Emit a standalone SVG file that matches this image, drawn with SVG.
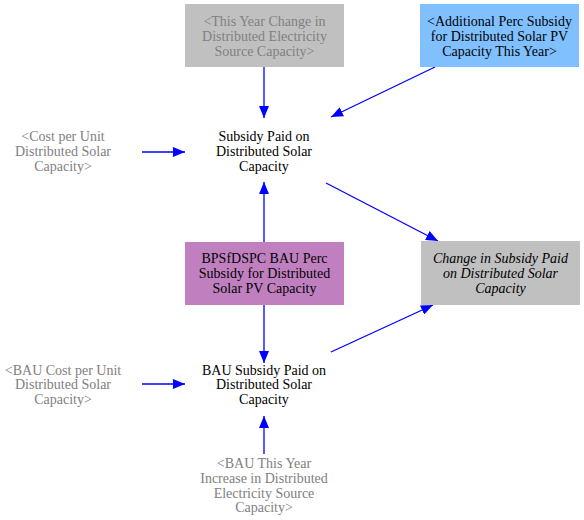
<svg xmlns="http://www.w3.org/2000/svg" width="584" height="520" viewBox="0 0 584 520">
<defs>
<marker id="ah" markerWidth="12" markerHeight="10" refX="12" refY="5" orient="auto" markerUnits="userSpaceOnUse">
<path d="M0,0 L12,5 L0,10 Z" fill="#0000ff"/>
</marker>
</defs>
<rect width="584" height="520" fill="#ffffff"/>
<g id="connectors" stroke="#0000ff" stroke-width="1.3" fill="none" marker-end="url(#ah)">
<line x1="264" y1="67" x2="264" y2="118"/>
<line x1="435" y1="67" x2="331" y2="117"/>
<line x1="142" y1="152" x2="185" y2="152"/>
<line x1="264" y1="242" x2="264" y2="182"/>
<line x1="264" y1="305" x2="264" y2="363"/>
<line x1="326" y1="183" x2="438" y2="241"/>
<line x1="331" y1="352" x2="433" y2="305"/>
<line x1="142" y1="384" x2="185" y2="384"/>
<line x1="264" y1="454" x2="264" y2="416"/>
</g>
<g font-family="Liberation Serif" font-size="14" text-anchor="middle">
<g id="this-year-change" fill="#808080">
<rect x="185" y="4" width="159" height="63" fill="#c0c0c0"/>
<text x="264.5" y="26">&lt;This Year Change in</text>
<text x="264.5" y="41">Distributed Electricity</text>
<text x="264.5" y="56">Source Capacity&gt;</text>
</g>
<g id="additional-perc" fill="#000000">
<rect x="420" y="4" width="159" height="63" fill="#80c0ff"/>
<text x="499.5" y="26">&lt;Additional Perc Subsidy</text>
<text x="499.5" y="41">for Distributed Solar PV</text>
<text x="499.5" y="56">Capacity This Year&gt;</text>
</g>
<g id="cost-per-unit" fill="#808080">
<text x="63" y="141">&lt;Cost per Unit</text>
<text x="63" y="156">Distributed Solar</text>
<text x="63" y="171">Capacity&gt;</text>
</g>
<g id="subsidy-paid" fill="#000000">
<text x="264" y="141">Subsidy Paid on</text>
<text x="264" y="156">Distributed Solar</text>
<text x="264" y="171">Capacity</text>
</g>
<g id="bau-perc" fill="#000000">
<rect x="185" y="242" width="159" height="63" fill="#c080c0"/>
<text x="264.5" y="263">BPSfDSPC BAU Perc</text>
<text x="264.5" y="278">Subsidy for Distributed</text>
<text x="264.5" y="293">Solar PV Capacity</text>
</g>
<g id="change-in-subsidy" fill="#000000" font-style="italic">
<rect x="421" y="241" width="159" height="64" fill="#c0c0c0"/>
<text x="500.5" y="263">Change in Subsidy Paid</text>
<text x="500.5" y="278">on Distributed Solar</text>
<text x="500.5" y="293">Capacity</text>
</g>
<g id="bau-cost" fill="#808080">
<text x="63" y="375">&lt;BAU Cost per Unit</text>
<text x="63" y="389">Distributed Solar</text>
<text x="63" y="404">Capacity&gt;</text>
</g>
<g id="bau-subsidy-paid" fill="#000000">
<text x="264" y="375">BAU Subsidy Paid on</text>
<text x="264" y="389">Distributed Solar</text>
<text x="264" y="404">Capacity</text>
</g>
<g id="bau-this-year" fill="#808080">
<text x="264" y="468">&lt;BAU This Year</text>
<text x="264" y="483">Increase in Distributed</text>
<text x="264" y="498">Electricity Source</text>
<text x="264" y="512">Capacity&gt;</text>
</g>
</g>
</svg>
